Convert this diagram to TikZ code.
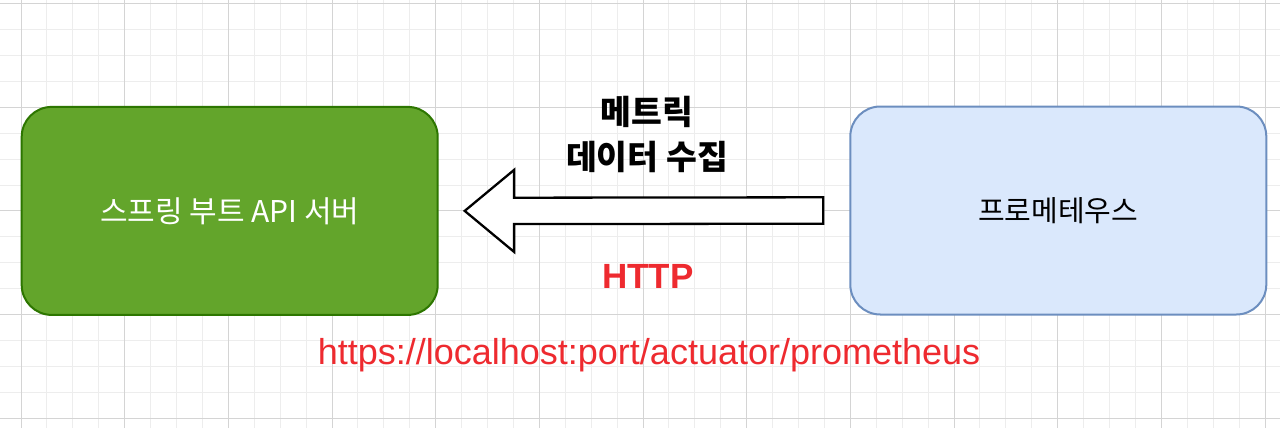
\documentclass[tikz,border=0pt]{standalone}
\usepackage{fontspec}
\usetikzlibrary{calc}
\newfontfamily\kr{Noto Sans CJK KR}
\newfontfamily\lat{Liberation Sans}
\definecolor{gridminor}{HTML}{EDEDED}
\definecolor{gridmajor}{HTML}{D4D4D4}
\definecolor{sgreen}{HTML}{63A52B}
\definecolor{sgreenD}{HTML}{2D7600}
\definecolor{pblue}{HTML}{DAE8FC}
\definecolor{pblueD}{HTML}{6C8EBF}
\definecolor{lred}{HTML}{EE2A2F}
\tikzset{
  minorline/.style={draw=gridminor, line width=1pt},
  majorline/.style={draw=gridmajor, line width=1pt},
  boxnode/.style={rectangle, rounded corners=30pt, line width=2pt,
    minimum width=416pt, minimum height=208pt, inner sep=0pt},
  bigarrow/.style={draw=black, fill=white, line width=2.3pt, line join=miter},
}
\begin{document}
\begin{tikzpicture}[x=1pt,y=-1pt]
\useasboundingbox (0,0) rectangle (1280,428);
\fill[white] (0,0) rectangle (1280,428);
% grid
\foreach \i in {0,...,48} {
  \pgfmathsetmacro{\xx}{21+25.917*\i}
  \draw[minorline] (\xx,0) -- (\xx,428);
}
\foreach \j in {0,...,16} {
  \pgfmathsetmacro{\yy}{3.6+25.917*\j}
  \draw[minorline] (0,\yy) -- (1280,\yy);
}
\foreach \i in {0,4,...,48} {
  \pgfmathsetmacro{\xx}{21+25.917*\i}
  \draw[majorline] (\xx,0) -- (\xx,428);
}
\foreach \j in {0,4,...,16} {
  \pgfmathsetmacro{\yy}{3.6+25.917*\j}
  \draw[majorline] (0,\yy) -- (1280,\yy);
}
% boxes
\node[boxnode, fill=sgreen, draw=sgreenD, text=white,
  font=\kr\fontsize{30}{36}\selectfont] (spring) at (229.7,210.9) {스프링 부트 API 서버};
\node[boxnode, fill=pblue, draw=pblueD, text=black,
  font=\kr\fontsize{29}{36}\selectfont] (prom) at (1058.3,210.5) {프로메테우스};
% arrow
\coordinate (tip) at ([xshift=26pt]spring.east);
\coordinate (tail) at ([xshift=-26pt]prom.west);
\draw[bigarrow] (tip) -- ($(tip)+(49.4,-41)$) -- ($(tip)+(49.4,-13.2)$)
  -- ($(tail)+(0,-13.2)$) -- ($(tail)+(0,13.2)$) -- ($(tip)+(49.4,13.2)$)
  -- ($(tip)+(49.4,41)$) -- cycle;
% labels
\node[align=center, font=\kr\bfseries\fontsize{33.5}{45}\selectfont, inner sep=0pt]
  (lbl) at (647,134.5) {메트릭\\데이터 수집};
\node[anchor=base, font=\lat\bfseries\fontsize{35}{40}\selectfont, text=lred, inner sep=0pt]
  (http) at (648,288) {HTTP};
\node[anchor=base, font=\lat\fontsize{36}{40}\selectfont, text=lred, inner sep=0pt]
  (url) at (649,364.3) {https://localhost:port/actuator/prometheus};
\end{tikzpicture}
\end{document}
